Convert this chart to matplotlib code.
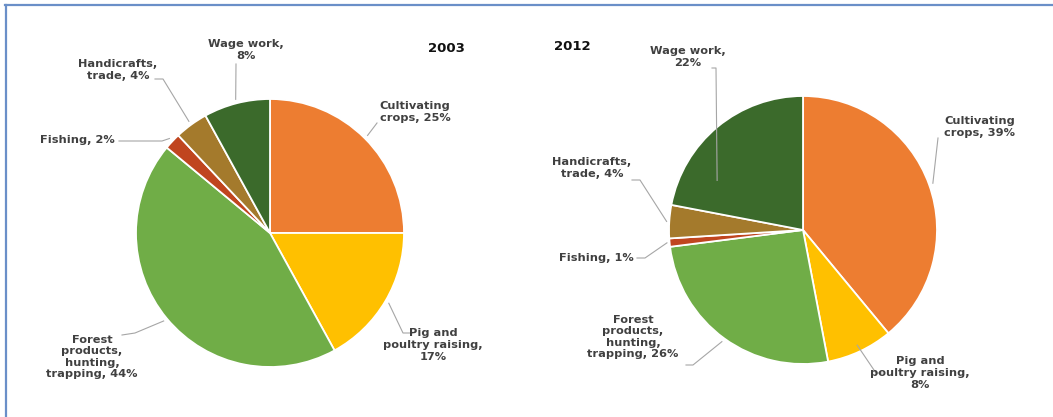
import numpy as np
import matplotlib.pyplot as plt
from matplotlib.lines import Line2D

# data
categories = ["Cultivating crops", "Pig and poultry raising",
              "Forest products, hunting, trapping", "Fishing",
              "Handicrafts, trade", "Wage work"]
share_2003 = [25, 17, 44, 2, 4, 8]
share_2012 = [39, 8, 26, 1, 4, 22]
years = ["2003", "2012"]

label_templates = ["Cultivating\ncrops, {}%", "Pig and\npoultry raising,\n{}%",
                   "Forest\nproducts,\nhunting,\ntrapping, {}%", "Fishing, {}%",
                   "Handicrafts,\ntrade, {}%", "Wage work,\n{}%"]
colors = ["#ED7D31", "#FFC000", "#70AD47", "#C0451F", "#A47A2C", "#3B6A2B"]

W, H = 1053, 417
fig = plt.figure(figsize=(W / 100, H / 100), dpi=100)
fig.patch.set_facecolor("white")


def fx(x, y):
    return x / W, 1 - y / H


# layout in pixels: pie centre, radius, year label, label centres, leaders
layouts = [
    dict(center=(270, 233), r=134, year=(446, 48),
         text=[(415, 112), (433, 345), (92, 357), (77, 140), (118, 70), (246, 50)],
         start=[(377, 123), (412, 333), (122, 335), (119, 141), (155, 79), (236, 64)],
         elbow=[None, (403, 333), (135, 333), (162, 141), (163, 79), None],
         anchor=[None] * 6, rr=[1.03] * 6),
    dict(center=(803, 230), r=134, year=(572, 47),
         text=[(980, 127), (920, 373), (633, 337), (596, 258), (592, 168), (688, 57)],
         start=[(938, 138), (882, 373), (686, 365), (637, 258), (632, 180), (712, 68)],
         elbow=[None, (876, 373), (693, 365), (645, 258), (640, 180), (716, 68)],
         anchor=[None, None, None, None, None, 150], rr=[1.03, 0.95, 1.03, 1.02, 1.02, 0.74]),
]

for shares, year, lay in zip([share_2003, share_2012], years, layouts):
    cx, cy = lay["center"]
    r = lay["r"]
    ax = fig.add_axes([(cx - r) / W, (H - cy - r) / H, 2 * r / W, 2 * r / H])
    ax.pie(shares, colors=colors, startangle=90, counterclock=False,
           wedgeprops=dict(edgecolor="white", linewidth=1.3))
    ax.set_xlim(-1, 1)
    ax.set_ylim(-1, 1)
    ax.set_aspect("auto")
    ax.axis("off")

    fig.text(*fx(*lay["year"]), year, ha="center", va="center",
             fontsize=9.5, fontweight="bold", color="#111111")

    cum = np.concatenate([[0], np.cumsum(shares)[:-1]])
    for i, v in enumerate(shares):
        ang = lay["anchor"][i]
        if ang is None:
            ang = 90 - 3.6 * (cum[i] + v / 2)
        a = np.radians(ang)
        ex = cx + r * lay["rr"][i] * np.cos(a)
        ey = cy - r * lay["rr"][i] * np.sin(a)
        pts = [lay["start"][i]]
        if lay["elbow"][i] is not None:
            pts.append(lay["elbow"][i])
        pts.append((ex, ey))
        xs = [p[0] / W for p in pts]
        ys = [1 - p[1] / H for p in pts]
        fig.add_artist(Line2D(xs, ys, transform=fig.transFigure,
                              color="#A6A6A6", lw=0.8))
        fig.text(*fx(*lay["text"][i]), label_templates[i].format(v),
                 ha="center", va="center", fontsize=8.2, fontweight="bold",
                 color="#404040", linespacing=1.2)

# blue frame (top and left edges)
fig.add_artist(Line2D([5 / W, 1], [1 - 4.5 / H] * 2, transform=fig.transFigure,
                      color="#6A8FC8", lw=1.6))
fig.add_artist(Line2D([5.5 / W] * 2, [0, 1 - 4.5 / H], transform=fig.transFigure,
                      color="#6A8FC8", lw=1.6))

fig.savefig("out.png", dpi=100)
